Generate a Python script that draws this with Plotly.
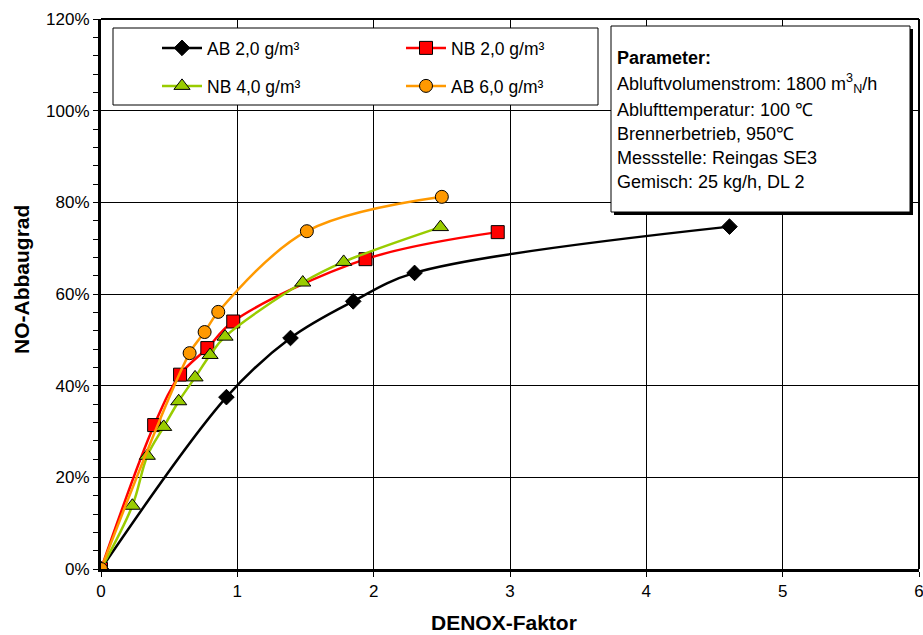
import plotly.graph_objects as go

# ---- data ----
ab2_x = [0, 0.92, 1.39, 1.85, 2.30, 4.61]
ab2_y = [0, 37.5, 50.4, 58.4, 64.6, 74.7]

nb2_x = [0, 0.39, 0.58, 0.78, 0.97, 1.94, 2.91]
nb2_y = [0, 31.4, 42.4, 48.2, 54.0, 67.6, 73.5]

nb4_x = [0, 0.23, 0.34, 0.46, 0.57, 0.69, 0.80, 0.91, 1.48, 1.78, 2.49]
nb4_y = [0, 13.8, 24.7, 31.0, 36.6, 41.8, 46.7, 50.7, 62.5, 67.0, 74.6]

ab6_x = [0, 0.65, 0.76, 0.86, 1.51, 2.50]
ab6_y = [0, 47.1, 51.7, 56.1, 73.7, 81.2]

series_names = ["AB 2,0 g/m³", "NB 2,0 g/m³", "NB 4,0 g/m³", "AB 6,0 g/m³"]
x_ticks = [0, 1, 2, 3, 4, 5, 6]
y_ticks = [0, 20, 40, 60, 80, 100, 120]
param_lines = [
    "<b>Parameter:</b>",
    "Abluftvolumenstrom: 1800 m<sup>3</sup><sub>N</sub>/h",
    "Ablufttemperatur: 100 \u2103",
    "Brennerbetrieb, 950\u2103",
    "Messstelle: Reingas SE3",
    "Gemisch: 25 kg/h, DL 2",
]
x_title = "DENOX-Faktor"
y_title = "NO-Abbaugrad"

FONT = "Liberation Sans, Arial, sans-serif"
W, H = 923, 635
L, R, T, B = 101, 919, 19, 569  # plot area pixel box


def px(xp):
    return (xp - L) / (R - L)


def py(yp):
    return (B - yp) / (B - T)


fig = go.Figure()

styles = [
    dict(color="#000000", symbol="diamond", mcolor="#000000", size=12),
    dict(color="#FF0000", symbol="square", mcolor="#FF0000", size=13),
    dict(color="#99CC00", symbol="triangle-up", mcolor="#99CC00", size=14),
    dict(color="#FF9900", symbol="circle", mcolor="#FF9900", size=13),
]
data = [(ab2_x, ab2_y), (nb2_x, nb2_y), (nb4_x, nb4_y), (ab6_x, ab6_y)]
legend_ids = ["legend", "legend2", "legend3", "legend4"]

for (xs, ys), name, st, lg in zip(data, series_names, styles, legend_ids):
    fig.add_trace(go.Scatter(
        x=xs, y=ys, name=name, mode="lines+markers", showlegend=True,
        line=dict(color=st["color"], width=2.5, shape="spline", smoothing=1),
        marker=dict(symbol=st["symbol"], size=st["size"], color=st["mcolor"],
                    line=dict(color="#000000", width=1)),
        legend=lg,
    ))

# legends: one per entry, positioned in a 2x2 grid
leg_pos = [(157, 48), (401, 48), (157, 86), (401, 86)]
for lg, (lx, ly) in zip(legend_ids, leg_pos):
    fig.update_layout(**{lg: dict(
        x=px(lx), y=py(ly), xanchor="left", yanchor="middle",
        bgcolor="rgba(0,0,0,0)", borderwidth=0, itemwidth=40,
        font=dict(family=FONT, size=17.5, color="#000000"),
    )})

shapes = []
# legend box
shapes.append(dict(type="rect", xref="paper", yref="paper",
                   x0=px(113), x1=px(598), y0=py(105), y1=py(28),
                   fillcolor="white", line=dict(color="#000000", width=1), layer="above"))
# parameter box shadow + box
shapes.append(dict(type="rect", xref="paper", yref="paper",
                   x0=px(614), x1=px(913), y0=py(215), y1=py(29),
                   fillcolor="#000000", line=dict(width=0), layer="above"))
shapes.append(dict(type="rect", xref="paper", yref="paper",
                   x0=px(611), x1=px(910), y0=py(212), y1=py(26),
                   fillcolor="white", line=dict(color="#000000", width=1), layer="above"))
# top / right border of plot area
shapes.append(dict(type="line", xref="paper", yref="paper", x0=0, x1=1, y0=1, y1=1,
                   line=dict(color="#000000", width=2), layer="above"))
shapes.append(dict(type="line", xref="paper", yref="paper", x0=1, x1=1, y0=0, y1=1,
                   line=dict(color="#000000", width=2), layer="above"))

annotations = []
line_y = [58, 84, 110, 134, 158, 182]
for txt, yy in zip(param_lines, line_y):
    annotations.append(dict(text=txt, xref="paper", yref="paper", x=px(615), y=py(yy),
                            xanchor="left", yanchor="middle", showarrow=False,
                            font=dict(family=FONT, size=18, color="#000000")))
annotations.append(dict(text="<b>%s</b>" % x_title, xref="paper", yref="paper",
                        x=px(504), y=py(622), xanchor="center", yanchor="middle",
                        showarrow=False, font=dict(family=FONT, size=21, color="#000000")))
annotations.append(dict(text="<b>%s</b>" % y_title, xref="paper", yref="paper",
                        x=px(22), y=py(280), xanchor="center", yanchor="middle",
                        textangle=-90, showarrow=False,
                        font=dict(family=FONT, size=21, color="#000000")))

fig.update_layout(
    width=W, height=H, showlegend=True,
    margin=dict(l=L, r=W - R, t=T, b=H - B, pad=0, autoexpand=False),
    paper_bgcolor="white", plot_bgcolor="white",
    font=dict(family=FONT, size=17, color="#000000"),
    shapes=shapes, annotations=annotations,
    xaxis=dict(range=[0, 6], tickvals=x_ticks, ticktext=[str(v) for v in x_ticks],
               showgrid=True, gridcolor="#000000", gridwidth=1,
               showline=True, linecolor="#000000", linewidth=3,
               ticks="outside", ticklen=5, tickcolor="#000000", tickwidth=1,
               zeroline=False, tickfont=dict(family=FONT, size=17),
               ticklabeloverflow="allow", automargin=False),
    yaxis=dict(range=[0, 120], tickvals=y_ticks, ticktext=["%d%%" % v for v in y_ticks],
               showgrid=True, gridcolor="#000000", gridwidth=1,
               showline=True, linecolor="#000000", linewidth=3,
               ticks="outside", ticklen=5, tickcolor="#000000", tickwidth=1,
               zeroline=False, tickfont=dict(family=FONT, size=17),
               ticklabeloverflow="allow", automargin=False,
               minor=dict(dtick=4, ticks="outside", ticklen=5, tickcolor="#000000",
                          tickwidth=1, showgrid=False)),
)

fig.write_html("out.html")
